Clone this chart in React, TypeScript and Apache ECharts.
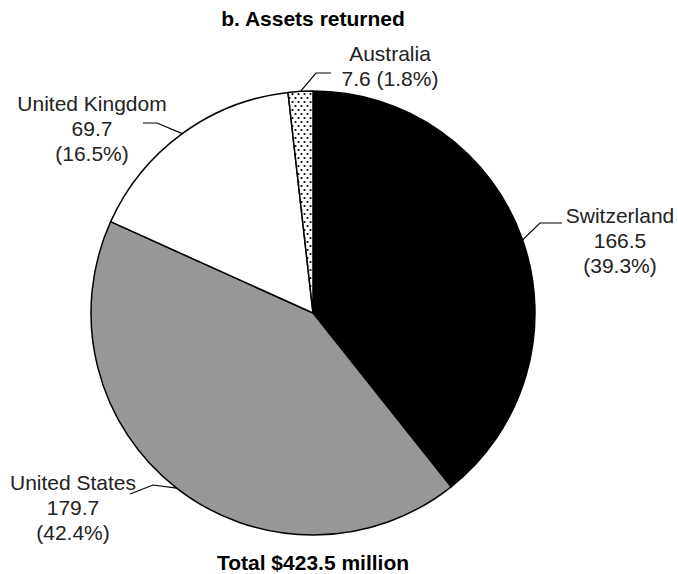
import React, { useEffect, useRef } from "react";
import * as echarts from "echarts";

const categories = ["Switzerland", "United States", "United Kingdom", "Australia"];
const values = [166.5, 179.7, 69.7, 7.6];
const titleText = "b. Assets returned";
const totalText = "Total $423.5 million";

const FONT = '"Liberation Sans", Arial, sans-serif';

// label layout (positions only)
const labelLayouts: Record<string, { x: number; y: number; pts: number[][] }> = {
  Switzerland: { x: 620, y: 240, pts: [[540, 223], [562, 223]] },
  "United States": { x: 73, y: 507, pts: [[153, 485], [130, 494]] },
  "United Kingdom": { x: 92, y: 128, pts: [[157, 123], [143, 123]] },
  Australia: { x: 390, y: 66, pts: [[316, 73], [331, 73]] },
};

function makeDots(): HTMLCanvasElement {
  const c = document.createElement("canvas");
  c.width = 6;
  c.height = 8;
  const ctx = c.getContext("2d")!;
  ctx.fillStyle = "#fff";
  ctx.fillRect(0, 0, 6, 8);
  ctx.fillStyle = "#000";
  ctx.beginPath();
  ctx.arc(1.5, 2, 1.1, 0, Math.PI * 2);
  ctx.fill();
  ctx.beginPath();
  ctx.arc(4.5, 6, 1.1, 0, Math.PI * 2);
  ctx.fill();
  return c;
}

export default function App() {
  const ref = useRef<HTMLDivElement>(null);
  useEffect(() => {
    if (!ref.current) return;
    const chart = echarts.init(ref.current, null, { renderer: "svg" });
    const dots = makeDots();
    const colors: any[] = [
      "#000000",
      "#979797",
      "#ffffff",
      { image: dots, repeat: "repeat", imageWidth: 6, imageHeight: 8 },
    ];
    chart.setOption({
      animation: false,
      backgroundColor: "#ffffff",
      graphic: [
        {
          type: "text",
          x: 313,
          y: 18,
          style: {
            text: titleText,
            align: "center",
            verticalAlign: "middle",
            fontSize: 21,
            fontWeight: "bold",
            fontFamily: FONT,
            fill: "#000",
          },
        },
        {
          type: "text",
          x: 313,
          y: 562,
          style: {
            text: totalText,
            align: "center",
            verticalAlign: "middle",
            fontSize: 21,
            fontWeight: "bold",
            fontFamily: FONT,
            fill: "#000",
          },
        },
      ],
      series: [
        {
          type: "pie",
          center: [313, 313],
          radius: 222,
          startAngle: 90,
          clockwise: true,
          percentPrecision: 1,
          avoidLabelOverlap: false,
          itemStyle: { borderColor: "#000", borderWidth: 1.5 },
          emphasis: { disabled: true },
          label: {
            show: true,
            position: "outside",
            fontFamily: FONT,
            fontSize: 21,
            color: "#222",
            lineHeight: 25,
            align: "center",
            formatter: (p: any) =>
              p.name === "Australia"
                ? `${p.name}\n${p.value} (${p.percent.toFixed(1)}%)`
                : `${p.name}\n${p.value}\n(${p.percent.toFixed(1)}%)`,
          },
          labelLine: {
            show: true,
            length: 15,
            length2: 15,
            lineStyle: { color: "#000", width: 1.2 },
          },
          labelLayout: (params: any) => {
            const name = categories[params.dataIndex];
            const lay = labelLayouts[name];
            const edge = params.labelLinePoints ? params.labelLinePoints[0] : null;
            const res: any = {
              x: lay.x,
              y: lay.y,
              align: "center",
              verticalAlign: "middle",
            };
            if (edge) res.labelLinePoints = [edge, lay.pts[0], lay.pts[1]];
            return res;
          },
          data: categories.map((name, i) => ({
            name,
            value: values[i],
            itemStyle: { color: colors[i] },
          })),
        },
      ],
    });
    return () => chart.dispose();
  }, []);
  return (
    <div
      ref={ref}
      style={{ position: "fixed", left: 0, top: 0, width: 678, height: 574 }}
    />
  );
}
